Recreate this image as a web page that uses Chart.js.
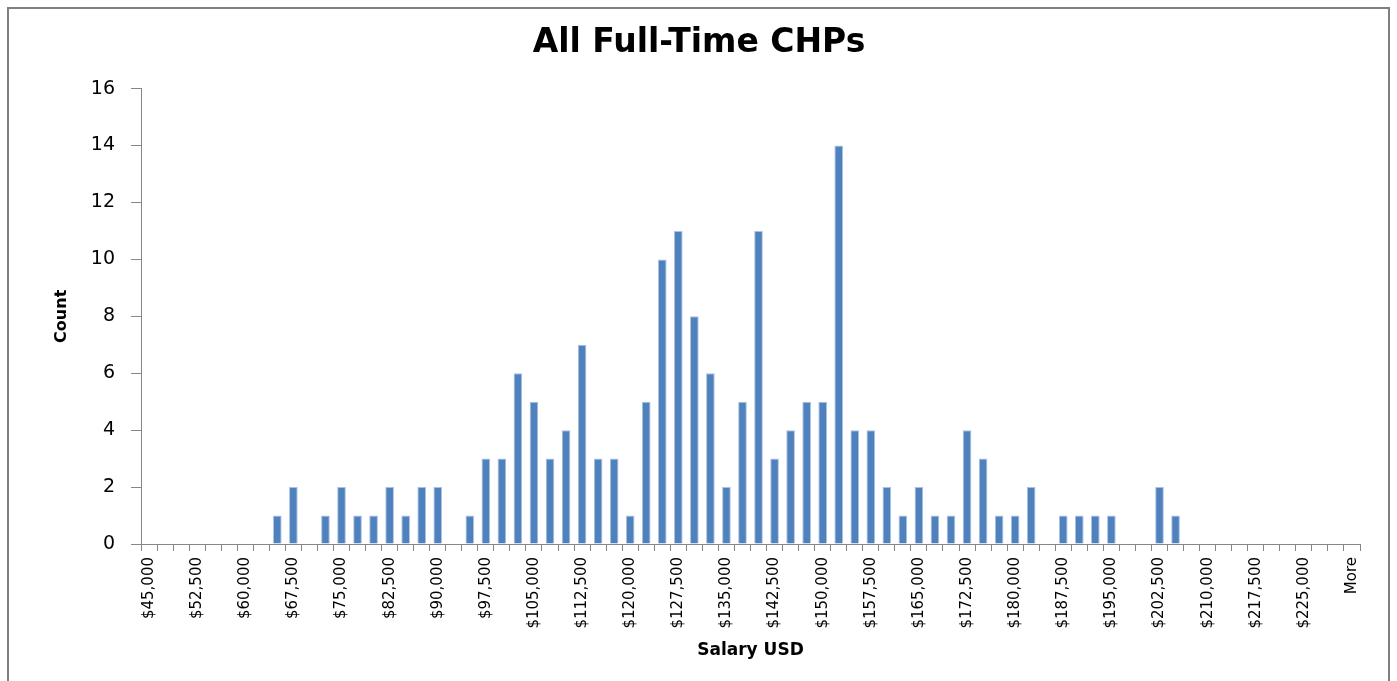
<!DOCTYPE html>
<html>
<head>
<meta charset="utf-8">
<script src="https://cdn.jsdelivr.net/npm/chart.js@4/dist/chart.umd.min.js"></script>
<style>
  html, body { margin: 0; padding: 0; background: #fff; }
  #wrap { position: relative; width: 1397px; height: 681px; overflow: hidden; }
  #frame {
    position: absolute; left: 7px; top: 7px; width: 1383px; height: 700px;
    border: 2px solid #808080; box-sizing: border-box;
  }
  #chart { position: absolute; left: 0; top: 0; }
</style>
</head>
<body>
<div id="wrap">
  <div id="frame"></div>
  <canvas id="chart" width="1397" height="681"></canvas>
</div>
<script>
// salary bins (Excel histogram bins)
const binLabels = [
  '$45,000', '$47,500', '$50,000', '$52,500', '$55,000', '$57,500', '$60,000', '$62,500',
  '$65,000', '$67,500', '$70,000', '$72,500', '$75,000', '$77,500', '$80,000', '$82,500',
  '$85,000', '$87,500', '$90,000', '$92,500', '$95,000', '$97,500', '$100,000', '$102,500',
  '$105,000', '$107,500', '$110,000', '$112,500', '$115,000', '$117,500', '$120,000', '$122,500',
  '$125,000', '$127,500', '$130,000', '$132,500', '$135,000', '$137,500', '$140,000', '$142,500',
  '$145,000', '$147,500', '$150,000', '$152,500', '$155,000', '$157,500', '$160,000', '$162,500',
  '$165,000', '$167,500', '$170,000', '$172,500', '$175,000', '$177,500', '$180,000', '$182,500',
  '$185,000', '$187,500', '$190,000', '$192,500', '$195,000', '$197,500', '$200,000', '$202,500',
  '$205,000', '$207,500', '$210,000', '$212,500', '$215,000', '$217,500', '$220,000', '$222,500',
  '$225,000', '$227,500', '$230,000', 'More'
];

// counts per bin
const counts = [
  0, 0, 0, 0, 0, 0, 0, 0,
  1, 2, 0, 1, 2, 1, 1, 2,
  1, 2, 2, 0, 1, 3, 3, 6,
  5, 3, 4, 7, 3, 3, 1, 5,
  10, 11, 8, 6, 2, 5, 11, 3,
  4, 5, 5, 14, 4, 4, 2, 1,
  2, 1, 1, 4, 3, 1, 1, 2,
  0, 1, 1, 1, 1, 0, 0, 2,
  1, 0, 0, 0, 0, 0, 0, 0,
  0, 0, 0, 0
];

// y axis ticks
const yMin = 0;
const yMax = 16;
const yStep = 2;

const axisGray = '#868686';

const ctx = document.getElementById('chart').getContext('2d');
new Chart(ctx, {
  type: 'bar',
  data: {
    labels: binLabels,
    datasets: [{
      label: 'Count',
      data: counts,
      backgroundColor: '#4F81BD',
      borderColor: '#A8C2E2',
      borderWidth: 1,
      barPercentage: 0.54,
      categoryPercentage: 1.0,
    }]
  },
  options: {
    responsive: false,
    animation: false,
    layout: {
      padding: { left: 38, right: 37, top: 0, bottom: 0 }
    },
    plugins: {
      legend: { display: false },
      tooltip: { enabled: false },
      title: {
        display: true,
        text: 'All Full-Time CHPs',
        color: '#000',
        font: { family: 'DejaVu Sans', size: 33, weight: 'bold' },
        padding: { top: 24, bottom: 25 }
      }
    },
    scales: {
      x: {
        afterFit: (scale) => { scale.height = 137; },
        border: { display: true, color: axisGray, width: 1 },
        grid: {
          display: true,
          drawOnChartArea: false,
          offset: true,
          tickLength: 7,
          color: axisGray,
        },
        ticks: {
          autoSkip: false,
          minRotation: 90,
          maxRotation: 90,
          padding: 6,
          color: '#000',
          font: { family: 'DejaVu Sans', size: 15 },
          callback: (val, i) => (i % 3 === 0 ? binLabels[i] : ''),
        },
        title: {
          display: true,
          text: 'Salary USD',
          color: '#000',
          font: { family: 'DejaVu Sans', size: 17, weight: 'bold' },
          padding: { top: 0, bottom: 20 }
        }
      },
      y: {
        min: yMin,
        max: yMax,
        afterFit: (scale) => { scale.width = 103; },
        border: { display: true, color: axisGray, width: 1 },
        grid: {
          display: true,
          drawOnChartArea: false,
          tickLength: 10,
          color: axisGray,
        },
        ticks: {
          stepSize: yStep,
          padding: 16,
          color: '#000',
          font: { family: 'DejaVu Sans', size: 19 },
        },
        title: {
          display: true,
          text: 'Count',
          color: '#000',
          font: { family: 'DejaVu Sans', size: 16, weight: 'bold' },
          padding: { top: 14, bottom: 0 }
        }
      }
    }
  }
});
</script>
</body>
</html>
